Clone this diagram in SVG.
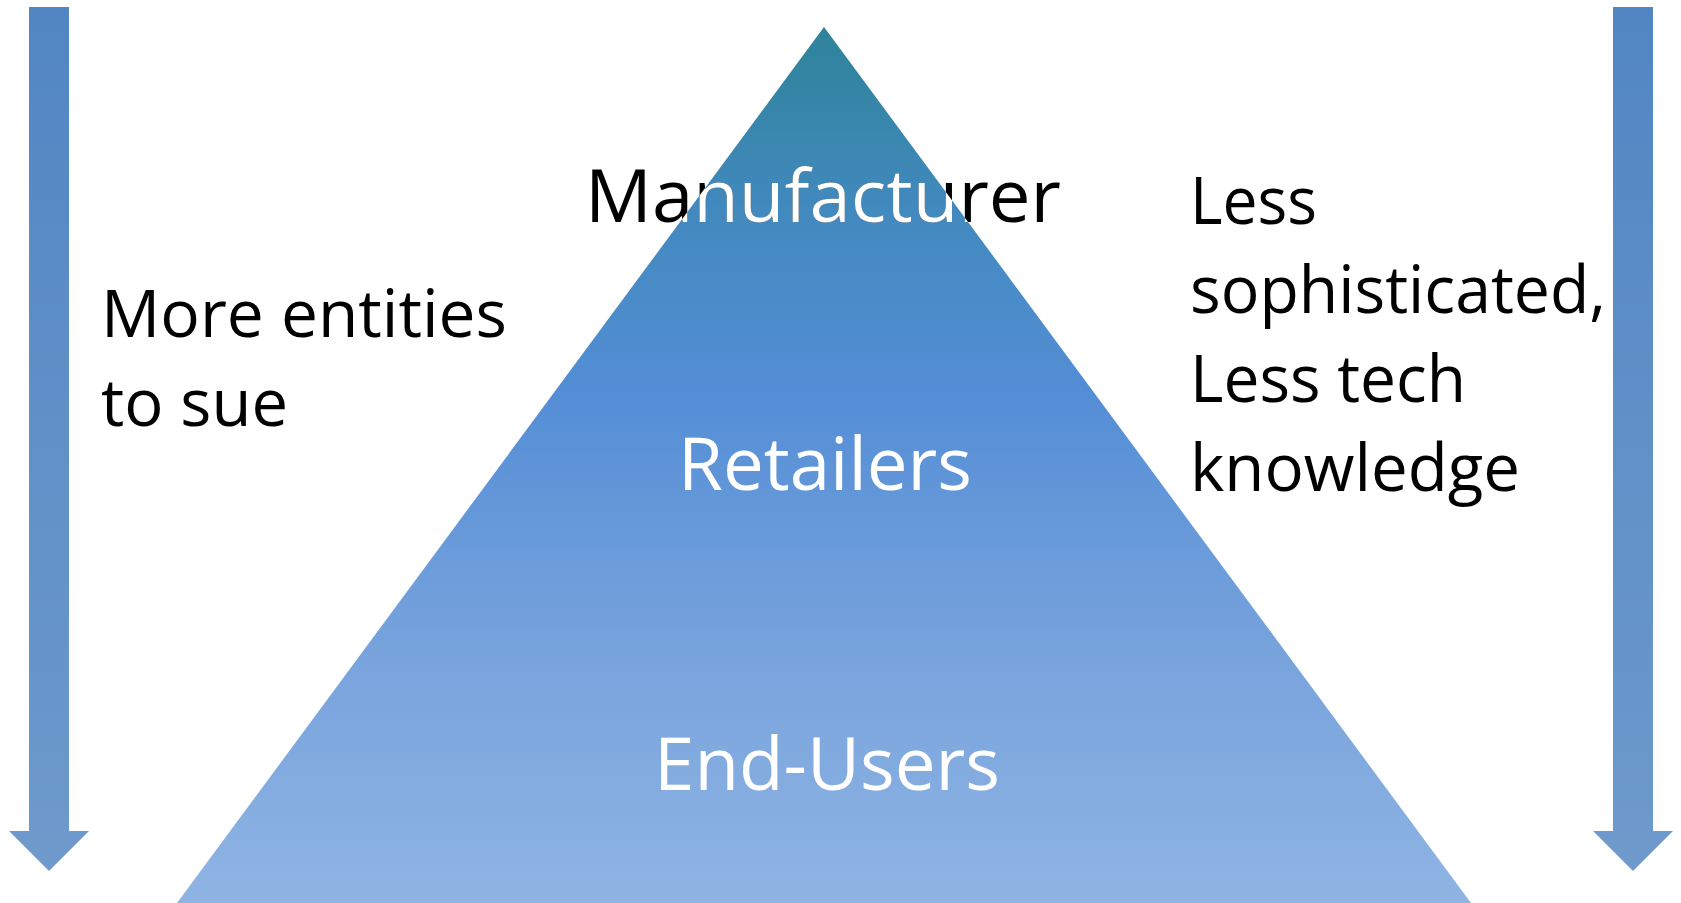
<svg xmlns="http://www.w3.org/2000/svg" width="1681" height="903" viewBox="0 0 1681 903">
  <defs>
    <linearGradient id="triGrad" gradientUnits="userSpaceOnUse" x1="0" y1="27" x2="0" y2="903">
      <stop offset="0" stop-color="#2E8399"/>
      <stop offset="0.2" stop-color="#4189BD"/>
      <stop offset="0.42" stop-color="#548ED6"/>
      <stop offset="0.7" stop-color="#76A2DC"/>
      <stop offset="1" stop-color="#8FB4E3"/>
    </linearGradient>
    <linearGradient id="arrowGrad" gradientUnits="objectBoundingBox" x1="0" y1="0" x2="0" y2="1">
      <stop offset="0" stop-color="#5286C3"/>
      <stop offset="1" stop-color="#6E9ACC"/>
    </linearGradient>
    <clipPath id="triClip">
      <polygon points="824,27 1471,903 177,903"/>
    </clipPath>
    <style>
      .lbl { font-family: "Open Sans", "Liberation Sans", sans-serif; }
      .big { font-size: 74px; }
      .side { font-size: 66px; fill: #000000; }
      .white { fill: #FFFFFF; }
      .black { fill: #000000; }
      .arrow { fill: url(#arrowGrad); }
    </style>
  </defs>
  <rect x="0" y="0" width="1681" height="903" fill="#FFFFFF"/>

  <g id="arrows">
    <polygon class="arrow" points="29,7 69,7 69,831 89,831 49,871 9,831 29,831"/>
    <polygon class="arrow" points="1613,7 1653,7 1653,831 1673,831 1633,871 1593,831 1613,831"/>
  </g>

  <g id="pyramid">
    <polygon points="824,27 1471,903 177,903" fill="url(#triGrad)"/>
  </g>

  <g id="manufacturer">
    <text class="lbl big black" x="823" y="222" text-anchor="middle" textLength="476" lengthAdjust="spacingAndGlyphs">Manufacturer</text>
    <text class="lbl big white" x="823" y="222" text-anchor="middle" textLength="476" lengthAdjust="spacingAndGlyphs" clip-path="url(#triClip)">Manufacturer</text>
  </g>

  <g id="retailers">
    <text class="lbl big white" x="825" y="490" text-anchor="middle" textLength="294" lengthAdjust="spacingAndGlyphs">Retailers</text>
  </g>

  <g id="end-users">
    <text class="lbl big white" x="827" y="790" text-anchor="middle" textLength="346" lengthAdjust="spacingAndGlyphs">End-Users</text>
  </g>

  <g id="left-label">
    <text class="lbl side" x="101" y="337" textLength="406" lengthAdjust="spacingAndGlyphs">More entities</text>
    <text class="lbl side" x="101" y="426" textLength="187" lengthAdjust="spacingAndGlyphs">to sue</text>
  </g>

  <g id="right-label">
    <text class="lbl side" x="1190" y="224" textLength="127" lengthAdjust="spacingAndGlyphs">Less</text>
    <text class="lbl side" x="1190" y="313" textLength="416" lengthAdjust="spacingAndGlyphs">sophisticated,</text>
    <text class="lbl side" x="1190" y="402" textLength="276" lengthAdjust="spacingAndGlyphs">Less tech</text>
    <text class="lbl side" x="1190" y="491" textLength="330" lengthAdjust="spacingAndGlyphs">knowledge</text>
  </g>
</svg>
